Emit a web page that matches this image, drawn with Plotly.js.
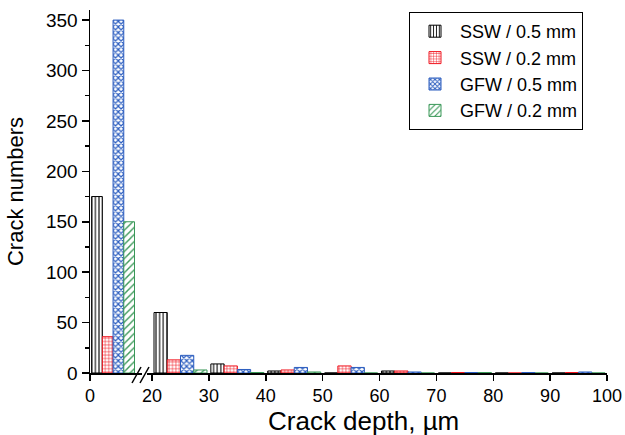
<!DOCTYPE html>
<html>
<head>
<meta charset="utf-8">
<script src="https://cdn.plot.ly/plotly-3.0.1.min.js"></script>
<style>html,body{margin:0;padding:0;background:#fff;}#chart{width:625px;height:435px;}</style>
</head>
<body>
<div id="chart"></div>
<script>
// ---- data ----
const seriesNames = ["SSW / 0.5 mm", "SSW / 0.2 mm", "GFW / 0.5 mm", "GFW / 0.2 mm"];
const firstBin = [5];                       // 0-10 µm bin (before axis break)
const bins = [25, 35, 45, 55, 65, 75, 85, 95]; // 20-100 µm bins
const ssw05First = [175];
const ssw02First = [36];
const gfw05First = [350];
const gfw02First = [150];
const ssw05 = [60, 9, 2, 0, 2, 0, 0, 0];
const ssw02 = [13, 7, 3, 7, 2, 0.5, 0, 0.5];
const gfw05 = [17.5, 3.5, 5.5, 5.5, 1, 0.5, 0.5, 1];
const gfw02 = [3, 0.5, 1, 0, 0, 0.5, 0, 0];
const xTicks = [20, 30, 40, 50, 60, 70, 80, 90, 100];
const yTicks = [0, 50, 100, 150, 200, 250, 300, 350];
const xTitle = "Crack depth, \u00b5m";
const yTitle = "Crack numbers";

// ---- styles ----
const styles = [
  {color: "#000000", shape: "|", size: 3.6, solidity: 0.3},
  {color: "#f0141e", shape: "+", size: 3.4, solidity: 0.3},
  {color: "#2a5cbf", shape: "x", size: 4.0, solidity: 0.5},
  {color: "#3a9858", shape: "/", size: 5, solidity: 0.28}
];
const firstVals = [ssw05First, ssw02First, gfw05First, gfw02First];
const restVals = [ssw05, ssw02, gfw05, gfw02];
const barW = 2.33;
const traces = [];
for (let i = 0; i < 4; i++) {
  const s = styles[i];
  const marker = {
    color: "#ffffff",
    line: {color: s.color, width: 1},
    pattern: {shape: s.shape, fgcolor: s.color, bgcolor: "#ffffff", size: s.size, solidity: s.solidity}
  };
  traces.push({
    type: "bar", name: seriesNames[i], legendgroup: "g" + i,
    x: firstBin, y: firstVals[i], xaxis: "x", yaxis: "y",
    width: barW, offset: -4.65 + i * barW, marker: marker, hoverinfo: "x+y"
  });
  traces.push({
    type: "bar", name: seriesNames[i], legendgroup: "g" + i, showlegend: false,
    x: bins, y: restVals[i], xaxis: "x2", yaxis: "y",
    width: barW, offset: -4.65 + i * barW, marker: marker, hoverinfo: "x+y"
  });
}

const L = 90, R = 607, T = 10, B = 373;
const W = R - L, H = B - T;
const px = v => (v - L) / W;
const py = v => (B - v) / H;
const font = "Arial, 'Liberation Sans', sans-serif";

const axisCommon = {
  showline: true, linecolor: "#000", linewidth: 1.5,
  ticks: "outside", ticklen: 7, tickwidth: 1.5, tickcolor: "#000",
  showgrid: false, zeroline: false,
  tickfont: {family: font, size: 19, color: "#000"}
};
const xTickFont = {family: font, size: 18, color: "#000"};

const layout = {
  width: 625, height: 435,
  margin: {l: L, r: 625 - R, t: T, b: 435 - B},
  paper_bgcolor: "#fff", plot_bgcolor: "#fff",
  barmode: "overlay",
  showlegend: true,
  legend: {
    x: px(409), y: py(12), xanchor: "left", yanchor: "top",
    bordercolor: "#000", borderwidth: 1, bgcolor: "#fff",
    font: {family: font, size: 18, color: "#000"},
    itemwidth: 40, tracegroupgap: 0
  },
  xaxis: Object.assign({}, axisCommon, {
    domain: [0, px(142)], range: [0, 11.3], ticklen: 6, tickfont: xTickFont,
    tickmode: "array", tickvals: [0], ticktext: ["0"],
    anchor: "y"
  }),
  xaxis2: Object.assign({}, axisCommon, {
    domain: [px(147), 1], range: [19.12, 100], ticklen: 6, tickfont: xTickFont,
    tickmode: "array", tickvals: xTicks, ticktext: xTicks.map(String),
    anchor: "y"
  }),
  yaxis: Object.assign({}, axisCommon, {
    range: [0, 360], tickmode: "array", tickvals: yTicks, ticktext: yTicks.map(String),
    minor: {dtick: 25, tick0: 0, ticks: "outside", ticklen: 4, tickwidth: 1.5, tickcolor: "#000"},
    anchor: "x",
    title: {text: yTitle, font: {family: font, size: 22, color: "#000"}, standoff: 16}
  }),
  annotations: [
    {text: xTitle, xref: "paper", yref: "paper", x: px(363), y: py(421),
     xanchor: "center", yanchor: "middle", showarrow: false,
     font: {family: font, size: 26, color: "#000"}}
  ],
  shapes: [
    {type: "line", xref: "paper", yref: "paper", x0: px(132), y0: py(383), x1: px(141), y1: py(367), line: {color: "#000", width: 1.5}},
    {type: "line", xref: "paper", yref: "paper", x0: px(140), y0: py(383), x1: px(149), y1: py(367), line: {color: "#000", width: 1.5}}
  ]
};

Plotly.newPlot("chart", traces, layout, {staticPlot: true, displayModeBar: false});
</script>
</body>
</html>
